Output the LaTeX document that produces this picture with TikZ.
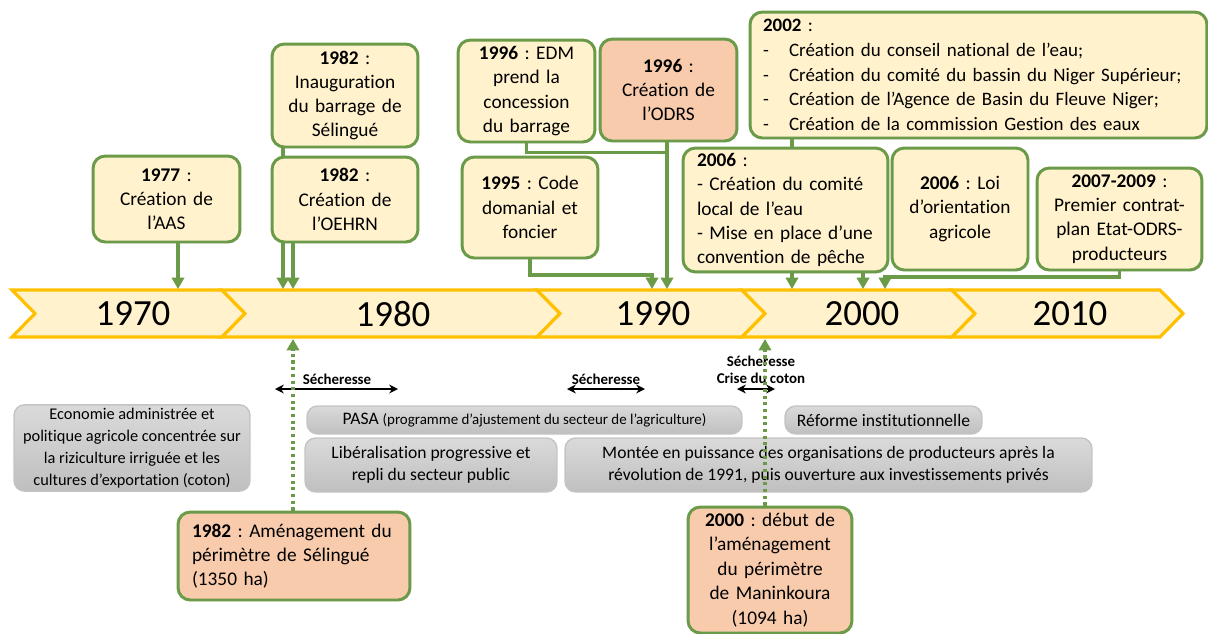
\documentclass[tikz,border=0pt]{standalone}
\usepackage{fontspec}
\setmainfont{Carlito}[Ligatures={TeX,CommonOff}]
\usetikzlibrary{arrows.meta,calc,backgrounds,shadows}
\frenchspacing

\definecolor{creme}{HTML}{FFF2CC}
\definecolor{vert}{HTML}{6B9A48}
\definecolor{saumon}{HTML}{F8CBAD}
\definecolor{jaune}{HTML}{FFC000}
\definecolor{grishaut}{HTML}{DADADA}
\definecolor{grisbas}{HTML}{BFBFBF}
\definecolor{grisbord}{HTML}{C4C4C4}

\newcommand\evtfont{\fontsize{11}{13.8}\selectfont}
\newcommand\perfont{\fontsize{10}{12.5}\selectfont}
\newcommand\secfont{\fontsize{8.5}{9.6}\selectfont\bfseries}

\tikzset{
  evt/.style={draw=vert, fill=creme, line width=1.7pt, rounded corners=7pt, align=center,
    font=\evtfont, inner sep=3pt, drop shadow={opacity=0.2, shadow xshift=0.6pt, shadow yshift=-0.8pt}},
  evtrose/.style={evt, fill=saumon},
  periode/.style={draw=grisbord, top color=grishaut, bottom color=grisbas, line width=0.8pt,
    rounded corners=6pt, align=center, font=\perfont, inner sep=2pt},
  chevron/.style={draw=jaune, fill=creme, line width=1.8pt},
  annee/.style={font=\fontsize{21}{25}\selectfont},
  lien/.style={draw=vert, line width=2pt},
  fleche/.style={lien, -{Triangle[width=7pt,length=6.5pt]}},
  pointille/.style={fleche, dash pattern=on 1.8pt off 2pt},
  secheresse/.style={black, line width=1.3pt, {Stealth[length=5pt,width=5pt]}-{Stealth[length=5pt,width=5pt]}},
}

\begin{document}
\begin{tikzpicture}[x=0.02cm, y=-0.02cm]
\useasboundingbox (0,0) rectangle (1208,633);

\node (aas) [evt, minimum width=2.94cm, minimum height=1.72cm, text width=2.7cm] at (166.5,199)
  {\textbf{1977} :\\Création de\\l’AAS};
\node (inaug) [evt, minimum width=2.92cm, minimum height=2.06cm, text width=2.7cm] at (345,95.5)
  {\textbf{1982} :\\Inauguration\\du barrage de\\Sélingué};
\node (oehrn) [evt, minimum width=2.92cm, minimum height=1.70cm, text width=2.7cm] at (345,199.5)
  {\textbf{1982} :\\Création de\\l’OEHRN};
\node (edm) [evt, minimum width=2.74cm, minimum height=2.04cm, text width=2.5cm] at (526.5,91)
  {\textbf{1996} : EDM\\prend la\\concession\\du barrage};
\node (odrs) [evtrose, minimum width=2.74cm, minimum height=2.04cm, text width=2.5cm] at (668.5,90)
  {\textbf{1996} :\\Création de\\l’ODRS};
\node (code) [evt, minimum width=2.72cm, minimum height=2.02cm, text width=2.5cm] at (530,207.5)
  {\textbf{1995} : Code\\domanial et\\foncier};
\node (y2002) [evt, align=left, inner xsep=0.26cm, minimum width=9.14cm, minimum height=2.52cm,
  text width=8.62cm, font=\fontsize{10.8}{14}\selectfont] at (978.5,75)
  {\textbf{2002} :\\
   \makebox[0.52cm][l]{-}Création du conseil national de l’eau;\\
   \makebox[0.52cm][l]{-}Création du comité du bassin du Niger Supérieur;\\
   \makebox[0.52cm][l]{-}Création de l’Agence de Basin du Fleuve Niger;\\
   \makebox[0.52cm][l]{-}Création de la commission Gestion des eaux};
\node (comite) [evt, align=left, inner xsep=0.28cm, minimum width=4.10cm, minimum height=2.40cm,
  text width=3.54cm] at (785.5,210)
  {\textbf{2006} :\\- Création du comité\\local de l’eau\\- Mise en place d’une\\convention de pêche};
\node (loi) [evt, minimum width=2.72cm, minimum height=2.44cm, text width=2.5cm] at (960,209)
  {\textbf{2006} : Loi\\d’orientation\\agricole};
\node (contrat) [evt, minimum width=3.30cm, minimum height=2.04cm, text width=3.05cm] at (1119.5,219)
  {\textbf{2007-2009} :\\Premier contrat-\\plan Etat-ODRS-\\producteurs};

\node (y1970) [annee] at (133,314) {1970};
\node (y1980) [annee] at (393,314) {1980};
\node (y1990) [annee] at (653,314) {1990};
\node (y2000) [annee] at (862,314) {2000};
\node (y2010) [annee] at (1070,314) {2010};

\node (eco) [periode, minimum width=4.72cm, minimum height=1.72cm, font=\fontsize{9.3}{12.4}\selectfont] at (132,448)
  {Economie administrée et\\politique agricole concentrée sur\\la riziculture irriguée et les\\cultures d’exportation (coton)};
\node (pasa) [periode, minimum width=8.70cm, minimum height=0.56cm] at (524.5,420)
  {PASA {\fontsize{8.5}{10}\selectfont(programme d’ajustement du secteur de l’agriculture)}};
\node (reforme) [periode, minimum width=3.94cm, minimum height=0.56cm] at (883.5,420)
  {Réforme institutionnelle};
\node (liberal) [periode, minimum width=5.04cm, minimum height=1.08cm] at (431,465)
  {Libéralisation progressive et\\repli du secteur public};
\node (montee) [periode, minimum width=10.54cm, minimum height=1.08cm] at (828.5,465)
  {Montée en puissance des organisations de producteurs après la\\révolution de 1991, puis ouverture aux investissements privés};

\node (amen1982) [evtrose, align=left, inner xsep=0.28cm, minimum width=4.64cm, minimum height=1.76cm,
  text width=4.08cm] at (294,556)
  {\makebox[\linewidth][s]{\textbf{1982} : Aménagement du}\\\makebox[\linewidth][s]{périmètre de Sélingué}\\(1350 ha)};
\node (amen2000) [evtrose, minimum width=3.28cm, minimum height=2.52cm, text width=3.05cm,
  font=\fontsize{11}{14}\selectfont] at (770,570)
  {\textbf{2000} : début de\\l’aménagement\\du périmètre\\de Maninkoura\\(1094 ha)};

\node (sech1) [font=\secfont] at (337,379) {Sécheresse};
\node (sech2) [font=\secfont] at (606,379) {Sécheresse};
\node (sech3) [font=\secfont, align=center] at (761,370) {Sécheresse\\Crise du coton};

\coordinate (s1g) at (275,389);
\coordinate (s1d) at (398,389);
\coordinate (s2g) at (567,389);
\coordinate (s2d) at (645,389);
\coordinate (s3g) at (737,389);
\coordinate (s3d) at (775,389);
\draw[secheresse] (s1g) -- (s1d);
\draw[secheresse] (s2g) -- (s2d);
\draw[secheresse] (s3g) -- (s3d);

\coordinate (c1977) at (178,289);
\coordinate (c1982a) at (283,289);
\coordinate (c1982b) at (293,289);
\coordinate (c1995) at (652,289);
\coordinate (c1996) at (667,289);
\coordinate (c2002) at (792,289);
\coordinate (c2006) at (863,289);
\coordinate (c2007) at (885,289);
\coordinate (d1982) at (293,339);
\coordinate (d2000) at (765,339);

\begin{scope}[on background layer]
  \foreach \a/\b in {12/222, 222/537, 537/742, 742/952, 952/1160}
    \draw[chevron] (\a,290) -- ++(23,23.5) -- (\a,337) -- (\b,337) -- ++(23,-23.5) -- (\b,290) -- cycle;
  \draw[fleche] (aas.south -| c1977) -- (c1977);
  \draw[fleche] (inaug.south -| c1982a) -- (c1982a);
  \draw[fleche] (oehrn.south -| c1982b) -- (c1982b);
  \draw[fleche] (code.south) |- ($(c1995)+(0,-14)$) -- (c1995);
  \draw[fleche] (odrs.south -| c1996) -- (c1996);
  \draw[lien] (edm.south) |- ($(odrs.south -| c1996)+(0,10)$);
  \draw[fleche] (y2002.south -| c2002) -- (c2002);
  \draw[fleche] (comite.south -| c2006) -- (c2006);
  \draw[fleche] (contrat.south) |- ($(c2007)+(0,-12)$) -- (c2007);
\end{scope}

\draw[pointille] (amen1982.north -| d1982) -- (d1982);
\draw[pointille] (amen2000.north -| d2000) -- (d2000);
\end{tikzpicture}
\end{document}
